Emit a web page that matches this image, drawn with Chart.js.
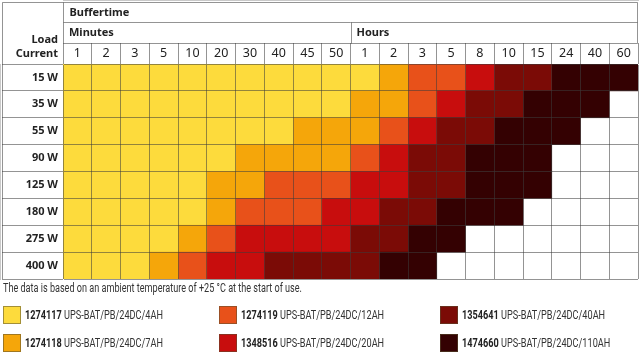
<!DOCTYPE html>
<html>
<head>
<meta charset="utf-8">
<script src="https://cdn.jsdelivr.net/npm/chart.js@4/dist/chart.umd.min.js"></script>
<style>
  html, body { margin: 0; padding: 0; background: #fff; }
  #wrap { position: relative; width: 640px; height: 354px; overflow: hidden; }
  #note { position: absolute; left: 3px; top: 281px; font: 12px Roboto, "Noto Sans", sans-serif; color: #333; white-space: nowrap; transform-origin: left center; }
  .sw { position: absolute; width: 18px; height: 18px; box-sizing: border-box; border: 1px solid rgba(90, 80, 50, 0.55); }
  .txt { position: absolute; height: 18px; line-height: 18px; font: 13.5px Roboto, "Noto Sans", sans-serif; color: #333; white-space: nowrap; transform-origin: left center; }
  .txt b { color: #222; }
</style>
</head>
<body>
<div id="wrap">
  <canvas id="table" width="640" height="354"></canvas>
  <div id="note">The data is based on an ambient temperature of +25 °C at the start of use.</div>
  <div id="legend"></div>
</div>
<script>
// rows / columns of the table
const rowLabels = ['15 W', '35 W', '55 W', '90 W', '125 W', '180 W', '275 W', '400 W'];
const colLabels = ['1', '2', '3', '5', '10', '20', '30', '40', '45', '50',
                   '1', '2', '3', '5', '8', '10', '15', '24', '40', '60'];
const groupLabels = ['Minutes', 'Hours'];
const groupStart = [0, 10];

// smallest battery (index into batteries below) per buffer time, null = not possible
const load15  = [0,0,0,0,0,0,0,0,0,0,0,1,2,2,3,4,4,5,5,5];
const load35  = [0,0,0,0,0,0,0,0,0,0,1,1,2,3,4,4,5,5,5,null];
const load55  = [0,0,0,0,0,0,0,0,1,1,1,2,3,4,4,5,5,5,null,null];
const load90  = [0,0,0,0,0,0,1,1,1,1,2,3,4,4,5,5,5,null,null,null];
const load125 = [0,0,0,0,0,1,1,2,2,2,3,3,4,4,5,5,5,null,null,null];
const load180 = [0,0,0,0,0,1,2,2,2,3,3,4,4,5,5,5,null,null,null,null];
const load275 = [0,0,0,0,1,2,3,3,3,3,4,4,5,5,null,null,null,null,null,null];
const load400 = [0,0,0,1,2,3,3,4,4,4,4,5,5,null,null,null,null,null,null,null];

const batteryCodes = ['1274117', '1274118', '1274119', '1348516', '1354641', '1474660'];
const batteryNames = ['UPS-BAT/PB/24DC/4AH', 'UPS-BAT/PB/24DC/7AH', 'UPS-BAT/PB/24DC/12AH',
                      'UPS-BAT/PB/24DC/20AH', 'UPS-BAT/PB/24DC/40AH', 'UPS-BAT/PB/24DC/110AH'];
const batteryColors = ['#FDDB3C', '#F5A60A', '#E8511A', '#C80D0D', '#7B0B06', '#340102'];

const levels = [load15, load35, load55, load90, load125, load180, load275, load400];
const lineColor = 'rgba(60, 60, 60, 0.55)';

// one floating-bar dataset per buffer time column
const datasets = colLabels.map((lbl, c) => ({
  label: lbl,
  data: levels.map(row => row[c] === null ? null : [c, c + 1]),
  backgroundColor: levels.map(row => row[c] === null ? 'rgba(0,0,0,0)' : batteryColors[row[c]]),
  borderWidth: 0,
  grouped: false,
  barPercentage: 1,
  categoryPercentage: 1
}));

const headerPlugin = {
  id: 'header',
  afterDraw(chart) {
    const ctx = chart.ctx;
    const xs = chart.scales.x;
    const area = chart.chartArea;
    const L = Math.round(xs.getPixelForValue(0)) + 0.5;
    const R = Math.round(xs.getPixelForValue(colLabels.length)) - 0.5;
    const y0 = 2.5, y1 = 22.5, y2 = 43.5;
    ctx.save();
    ctx.strokeStyle = lineColor;
    ctx.lineWidth = 1;
    ctx.beginPath();
    ctx.moveTo(2.5, y0); ctx.lineTo(R, y0);
    ctx.moveTo(L, y1); ctx.lineTo(R, y1);
    ctx.moveTo(L, y2); ctx.lineTo(R, y2);
    ctx.moveTo(L, y0); ctx.lineTo(L, y2);
    ctx.moveTo(R, y0); ctx.lineTo(R, y2);
    ctx.moveTo(2.5, y0); ctx.lineTo(2.5, area.bottom);
    groupStart.slice(1).forEach(g => {
      const gx = Math.round(xs.getPixelForValue(g)) + 0.5;
      ctx.moveTo(gx, y1); ctx.lineTo(gx, y2);
    });
    ctx.stroke();

    ctx.fillStyle = '#222';
    ctx.font = 'bold 11px "Noto Sans"';
    ctx.textBaseline = 'middle';
    ctx.textAlign = 'left';
    ctx.fillText('Buffertime', L + 6, 12.5);
    groupLabels.forEach((g, i) => ctx.fillText(g, xs.getPixelForValue(groupStart[i]) + 6, 33));
    ctx.textAlign = 'right';
    ctx.fillText('Load', area.left - 5, 40);
    ctx.fillText('Current', area.left - 5, 53.5);
    ctx.restore();
  }
};

Chart.defaults.font.family = '"Noto Sans", sans-serif';

new Chart(document.getElementById('table').getContext('2d'), {
  type: 'bar',
  data: { labels: rowLabels, datasets: datasets },
  options: {
    indexAxis: 'y',
    responsive: false,
    animation: false,
    layout: { padding: { left: 2, top: 2, right: 2, bottom: 75 } },
    plugins: { legend: { display: false }, tooltip: { enabled: false } },
    scales: {
      x: { type: 'linear', min: 0, max: colLabels.length, display: false },
      xTop: {
        type: 'category',
        labels: colLabels,
        position: 'top',
        offset: true,
        grid: { offset: true, color: lineColor, tickLength: 21, z: 1 },
        border: { color: lineColor },
        ticks: { padding: -17.5, color: '#222', font: { size: 12.5 }, maxRotation: 0, autoSkip: false },
        afterFit: s => { s.height = 62; }
      },
      y: {
        type: 'category',
        offset: true,
        grid: { offset: true, color: lineColor, tickLength: 61, z: 1 },
        border: { color: lineColor },
        ticks: { padding: -56, color: '#222', font: { size: 11, weight: 'bold' }, autoSkip: false },
        afterFit: s => { s.width = 61; }
      }
    }
  },
  plugins: [headerPlugin]
});

// squeeze a line of text to the condensed width of the original
function squeeze(el, width) {
  const w = el.getBoundingClientRect().width;
  el.style.transform = 'scaleX(' + (width / w) + ')';
}
squeeze(document.getElementById('note'), 299);

// legend below the table, three columns of two
const legendLeft = [3, 219, 440];
const legendTop = [306, 334];
const legend = document.getElementById('legend');
let scale = null;
batteryCodes.forEach((code, i) => {
  const left = legendLeft[Math.floor(i / 2)];
  const top = legendTop[i % 2];
  const sw = document.createElement('div');
  sw.className = 'sw';
  sw.style.left = left + 'px';
  sw.style.top = top + 'px';
  sw.style.background = batteryColors[i];
  const txt = document.createElement('div');
  txt.className = 'txt';
  txt.style.left = (left + 22) + 'px';
  txt.style.top = top + 'px';
  txt.innerHTML = '<b>' + code + '</b> ' + batteryNames[i];
  legend.appendChild(sw);
  legend.appendChild(txt);
  if (scale === null) scale = 138 / txt.getBoundingClientRect().width;
  txt.style.transform = 'scaleX(' + scale + ')';
});
</script>
</body>
</html>
